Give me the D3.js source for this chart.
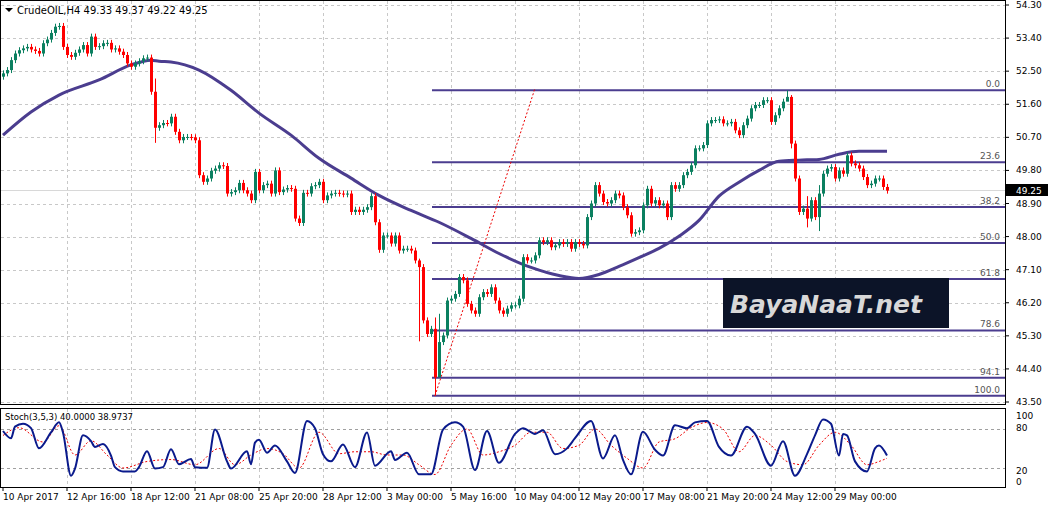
<!DOCTYPE html>
<html><head><meta charset="utf-8">
<script src="https://cdn.jsdelivr.net/npm/d3@7"></script>
<style>body{margin:0;background:#fff}svg{font-family:"DejaVu Sans",sans-serif}</style>
</head><body>
<script>
// closes of H4 bars (open = previous close)
var closes = [52.44,52.53,52.80,52.98,53.07,53.12,53.16,53.09,53.05,52.98,53.26,53.36,53.54,53.71,53.73,53.16,52.94,52.89,53.00,53.09,
53.21,52.98,53.44,53.16,53.18,53.26,53.27,53.09,53.12,53.03,52.94,52.71,52.62,52.71,52.77,52.85,52.87,51.94,50.96,51.03,
51.09,51.08,51.26,50.85,50.62,50.71,50.71,50.70,50.62,49.67,49.49,49.58,49.79,49.85,49.94,49.92,49.17,49.21,49.26,49.46,
49.26,49.17,48.99,49.76,49.26,49.40,49.44,49.17,49.80,49.21,49.28,49.32,49.30,48.49,48.37,49.19,49.17,49.37,49.40,49.49,
48.99,49.12,49.17,49.19,49.17,49.15,49.17,48.67,48.73,48.67,48.73,48.80,49.10,48.39,47.64,48.03,48.03,47.81,48.03,47.62,
47.67,47.67,47.62,47.35,47.17,45.72,45.35,45.49,44.17,45.13,45.31,46.26,46.31,46.44,46.90,46.81,46.17,45.99,45.90,46.35,
46.49,46.44,46.62,46.26,45.99,45.90,46.04,46.13,46.13,46.31,47.44,47.35,47.35,47.49,47.90,47.85,47.90,47.71,47.76,47.85,
47.80,47.85,47.67,47.85,47.80,47.76,48.53,48.90,49.40,49.17,48.94,48.90,48.99,49.17,49.12,48.80,48.58,48.08,48.12,48.17,
48.85,49.30,48.90,48.99,48.85,48.90,48.53,49.40,49.30,49.40,49.67,49.76,49.94,50.40,50.40,50.49,51.08,51.17,51.17,51.19,
51.08,51.08,51.12,50.89,50.76,51.03,51.21,51.49,51.58,51.58,51.71,51.71,51.12,51.30,51.49,51.67,51.80,50.53,49.58,48.67,
48.76,48.49,48.99,48.53,49.17,49.71,49.85,49.89,49.58,49.80,49.71,50.21,49.99,49.94,49.85,49.62,49.40,49.44,49.58,49.58,
49.35,49.25];
var firstOpen = 52.35;
var wicks = {38:[52.30,50.55],104:[47.40,45.15],108:[45.80,43.67],109:[45.90,44.20],196:[51.98,51.70],197:[51.85,50.40],201:[49.10,48.25],204:[49.40,48.15]};

var maIdx = [0,7,14,24,32,37,39,42,49,57,64,72,79,87,94,102,109,117,124,132,139,144,149,154,159,164,169,174,179,184,189,194,199,204,209,214,221];
var maVals = [50.76,51.39,51.85,52.26,52.67,52.80,52.77,52.75,52.53,51.98,51.36,50.76,50.13,49.59,49.12,48.71,48.39,47.95,47.54,47.16,46.94,46.86,46.97,47.19,47.43,47.68,48.01,48.44,49.10,49.48,49.80,50.05,50.08,50.10,50.24,50.32,50.32];

var fibHigh = 51.98, fibLow = 43.67;
var fibLevels = [0, 23.6, 38.2, 50, 61.8, 78.6, 94.1, 100];
var priceTicks = [54.30,53.40,52.50,51.60,50.70,49.80,48.90,48.00,47.10,46.20,45.30,44.40,43.50];

var stochIdx = [0,2,3,5,7,9,12,14,15,17,18,20,22,23,25,27,28,30,33,34,36,38,40,42,44,47,48,51,53,56,57,61,62,63,64,66,68,71,73,76,78,80,82,85,88,91,93,97,98,101,104,107,110,113,115,118,121,124,128,130,133,135,138,141,143,147,150,153,155,157,160,163,165,168,171,173,176,179,182,186,188,192,195,198,201,203,205,207,209,210,211,213,216,218,219,221];
var stochMain = [76.9,65.8,83.6,88,81.3,50.2,74.7,90.2,74.7,8,19.1,70.2,61.3,52.4,56.9,39.1,21.3,14.7,14.7,21.3,45.8,19.1,21.3,48.9,25.8,33.8,21.3,20.4,79.1,30.2,19.1,45.8,25.8,59.1,63.6,43.6,54.7,30.2,12.4,92.4,81.3,41.3,30.2,56,21.3,74.7,23.6,45.8,32.4,43.6,10.2,10.2,79.1,90.2,83.6,16.9,76.9,28,72.4,81.3,72.4,78.2,41.3,50.2,65.8,92.4,34.7,70.2,32.4,10.2,75.6,48,39.1,85.8,81.3,90.2,92.4,52.4,39.1,83.6,72.4,23.6,61.3,8,41.3,70.2,94.7,88,39.1,72.4,70.2,30.2,14.7,50.2,54.7,39.1];
var sigIdx = [0,4,10,14,18,22,26,30,36,42,48,54,58,62,66,70,74,79,84,88,92,96,100,104,108,112,116,120,124,128,132,136,140,144,148,152,156,160,164,168,172,176,180,184,188,192,196,200,204,208,212,216,219,221];
var sigVals = [70,82,60,85,40,62,40,20,30,33,25,50,25,40,50,42,20,75,42,45,45,40,40,25,10,55,80,40,45,55,75,75,50,55,80,55,35,20,60,65,82,90,80,45,70,55,30,25,55,75,55,25,30,35];

var timeLabels = ["10 Apr 2017","12 Apr 16:00","18 Apr 12:00","21 Apr 08:00","25 Apr 20:00","28 Apr 12:00","3 May 00:00","5 May 16:00","10 May 04:00","12 May 20:00","17 May 08:00","21 May 20:00","24 May 12:00","29 May 00:00"];

var W = 1053, H = 508;
var svg = d3.select("body").append("svg").attr("width", W).attr("height", H);
var x = d3.scaleLinear().domain([0, closes.length - 1]).range([3, 887]);
var y = d3.scaleLinear().domain([43.50, 54.30]).range([402, 5]);
var ys = d3.scaleLinear().domain([0, 100]).range([481, 416]);
var right = 1005;

// grid
var grid = svg.append("g").attr("stroke", "#c8c8c8").attr("stroke-dasharray", "3,3");
timeLabels.forEach(function(t, i){
    var gx = Math.round(x(i * 16)) + 0.5;
    if (i == 0) return;
    grid.append("line").attr("x1", gx).attr("x2", gx).attr("y1", 1).attr("y2", 404);
    grid.append("line").attr("x1", gx).attr("x2", gx).attr("y1", 409).attr("y2", 487);
});
priceTicks.forEach(function(p){
    var gy = Math.round(y(p)) + 0.5;
    grid.append("line").attr("x1", 1).attr("x2", right).attr("y1", gy).attr("y2", gy);
});
[20, 80].forEach(function(v){
    var gy = Math.round(ys(v)) + 0.5;
    grid.append("line").attr("x1", 1).attr("x2", right).attr("y1", gy).attr("y2", gy).attr("stroke", "#a0a0a0");
});
svg.append("line").attr("x1", 1).attr("x2", right).attr("y1", 190.5).attr("y2", 190.5).attr("stroke", "#d8d8d8");

// frames
svg.append("rect").attr("x", 0.5).attr("y", 0.5).attr("width", right).attr("height", 404).attr("fill", "none").attr("stroke", "#000");
svg.append("rect").attr("x", 0.5).attr("y", 408.5).attr("width", right).attr("height", 79).attr("fill", "none").attr("stroke", "#000");

// fibonacci
var fib = svg.append("g");
fibLevels.forEach(function(l){
    var p = fibHigh - (fibHigh - fibLow) * l / 100;
    fib.append("line").attr("x1", 432).attr("x2", right).attr("y1", y(p)).attr("y2", y(p))
        .attr("stroke", "#4b3d8f").attr("stroke-width", 2);
    fib.append("text").attr("x", 1000).attr("y", y(p) - 3).attr("text-anchor", "end")
        .attr("font-size", 9).attr("fill", "#555").text(l == 0 ? "0.0" : l.toFixed(1));
});
svg.append("line").attr("x1", x(108)).attr("y1", y(fibLow)).attr("x2", 535).attr("y2", y(fibHigh) - 2)
    .attr("stroke", "#e00").attr("stroke-dasharray", "2,2");

// watermark
svg.append("rect").attr("x", 723).attr("y", 278).attr("width", 226).attr("height", 50).attr("fill", "#0c1428");
svg.append("text").attr("x", 730).attr("y", 313).attr("font-size", 25).attr("font-style", "italic")
    .attr("font-weight", "bold").attr("fill", "#d8d8d8").text("BayaNaaT.net");

// MA
svg.append("path").datum(maIdx).attr("fill", "none").attr("stroke", "#4b3d8f").attr("stroke-width", 3)
    .attr("d", d3.line().x(function(d){ return x(d) }).y(function(d, i){ return y(maVals[i]) }).curve(d3.curveMonotoneX));

// candles
var cg = svg.append("g");
closes.forEach(function(c, i){
    var o = i == 0 ? firstOpen : closes[i - 1];
    var hi = Math.max(o, c), lo = Math.min(o, c);
    var cx = Math.round(x(i)) + 0.5;
    var col = c >= o ? "#0b8060" : "#ff0000";
    var wy1 = y(hi) - 3, wy2 = y(lo) + 3;
    if (wicks[i]) { wy1 = y(wicks[i][0]); wy2 = y(wicks[i][1]) }
    cg.append("line").attr("x1", cx).attr("x2", cx).attr("y1", wy1).attr("y2", wy2).attr("stroke", col);
    cg.append("rect").attr("x", cx - 1.5).attr("width", 3).attr("y", y(hi))
        .attr("height", Math.max(1, y(lo) - y(hi))).attr("fill", col);
});

// price axis
var ax = svg.append("g").attr("font-size", 9).attr("fill", "#000");
priceTicks.forEach(function(p){
    ax.append("line").attr("x1", right).attr("x2", right + 4).attr("y1", y(p)).attr("y2", y(p)).attr("stroke", "#000");
    ax.append("text").attr("x", 1016).attr("y", y(p) + 3).text(p.toFixed(2));
});
svg.append("rect").attr("x", right + 1).attr("y", 184).attr("width", 42).attr("height", 12).attr("fill", "#000");
svg.append("text").attr("x", 1016).attr("y", 194).attr("font-size", 9).attr("fill", "#fff").text("49.25");
[[100, 416], [80, 428], [20, 471], [0, 482]].forEach(function(d){
    ax.append("text").attr("x", 1016).attr("y", d[1] + 3).text(d[0]);
});

// stochastic
svg.append("path").datum(sigIdx).attr("fill", "none").attr("stroke", "#e00").attr("stroke-dasharray", "2,2")
    .attr("d", d3.line().x(function(d){ return x(d) }).y(function(d, i){ return ys(sigVals[i]) }).curve(d3.curveMonotoneX));
svg.append("path").datum(stochIdx).attr("fill", "none").attr("stroke", "#0a1a8c").attr("stroke-width", 2)
    .attr("d", d3.line().x(function(d){ return x(d) }).y(function(d, i){ return ys(stochMain[i]) }).curve(d3.curveMonotoneX));

// time axis
timeLabels.forEach(function(t, i){
    var tx = x(i * 16);
    svg.append("line").attr("x1", tx).attr("x2", tx).attr("y1", 487).attr("y2", 491).attr("stroke", "#000");
    svg.append("text").attr("x", tx).attr("y", 500).attr("font-size", 9).text(t);
});

// labels
svg.append("path").attr("d", "M5,8 L13,8 L9,12 Z").attr("fill", "#000");
svg.append("text").attr("x", 17).attr("y", 14).attr("font-size", 10).text("CrudeOIL,H4  49.33 49.37 49.22 49.25");
svg.append("text").attr("x", 5).attr("y", 420).attr("font-size", 8.5).text("Stoch(3,5,3) 40.0000 38.9737");
</script>
</body></html>
